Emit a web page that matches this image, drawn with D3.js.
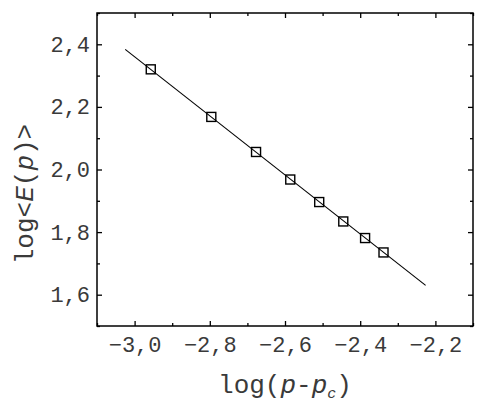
<!DOCTYPE html>
<html>
<head>
<meta charset="utf-8">
<script src="https://cdn.jsdelivr.net/npm/d3@7"></script>
<style>
  body { margin: 0; background: #fff; }
  svg { display: block; }
</style>
</head>
<body>
<div id="chart"></div>
<script>
// data
const logDp = [-2.957, -2.796, -2.677, -2.586, -2.509, -2.445, -2.387, -2.338];
const logE = [2.320, 2.168, 2.056, 1.968, 1.896, 1.834, 1.781, 1.735];
// fitted line end points
const fitX = [-3.025, -2.226];
const fitY = [2.384, 1.630];
const xTicks = [-3.0, -2.8, -2.6, -2.4, -2.2];
const yTicks = [1.6, 1.8, 2.0, 2.2, 2.4];
const xMinor = [-3.1, -2.9, -2.7, -2.5, -2.3, -2.1];
const yMinor = [1.5, 1.7, 1.9, 2.1, 2.3, 2.5];

const width = 485,
  height = 415,
  marginTop = 13,
  marginRight = 12,
  marginBottom = 89,
  marginLeft = 97;

const mono = "'Liberation Mono', 'DejaVu Sans Mono', monospace";
const textColor = "#3a3a3a";
const fmt = (d) => d3.format(".1f")(d).replace(".", ",");

const x = d3.scaleLinear([-3.1, -2.1], [marginLeft, width - marginRight]);
const y = d3.scaleLinear([1.5, 2.5], [height - marginBottom, marginTop]);

const svg = d3
  .select("#chart")
  .append("svg")
  .attr("width", width)
  .attr("height", height)
  .attr("viewBox", [0, 0, width, height]);

function styleAxis(g) {
  g.select(".domain").remove();
  g.selectAll(".tick line").attr("stroke", "#000").attr("stroke-width", 1.3);
  g.selectAll(".tick text")
    .attr("font-family", mono)
    .attr("font-size", 22)
    .attr("fill", textColor);
}

// bottom axis
svg
  .append("g")
  .attr("transform", `translate(0,${height - marginBottom})`)
  .call(d3.axisBottom(x).tickValues(xTicks).tickFormat(fmt).tickSize(-5).tickPadding(10))
  .call(styleAxis);
svg
  .append("g")
  .attr("transform", `translate(0,${height - marginBottom})`)
  .call(d3.axisBottom(x).tickValues(xMinor).tickFormat("").tickSize(-3))
  .call(styleAxis);

// top axis
svg
  .append("g")
  .attr("transform", `translate(0,${marginTop})`)
  .call(d3.axisTop(x).tickValues(xTicks).tickFormat("").tickSize(-5))
  .call(styleAxis);
svg
  .append("g")
  .attr("transform", `translate(0,${marginTop})`)
  .call(d3.axisTop(x).tickValues(xMinor).tickFormat("").tickSize(-3))
  .call(styleAxis);

// left axis
svg
  .append("g")
  .attr("transform", `translate(${marginLeft},0)`)
  .call(d3.axisLeft(y).tickValues(yTicks).tickFormat(fmt).tickSize(-5).tickPadding(7))
  .call(styleAxis);
svg
  .append("g")
  .attr("transform", `translate(${marginLeft},0)`)
  .call(d3.axisLeft(y).tickValues(yMinor).tickFormat("").tickSize(-3))
  .call(styleAxis);

// right axis
svg
  .append("g")
  .attr("transform", `translate(${width - marginRight},0)`)
  .call(d3.axisRight(y).tickValues(yTicks).tickFormat("").tickSize(-5))
  .call(styleAxis);
svg
  .append("g")
  .attr("transform", `translate(${width - marginRight},0)`)
  .call(d3.axisRight(y).tickValues(yMinor).tickFormat("").tickSize(-3))
  .call(styleAxis);

// frame
svg
  .append("rect")
  .attr("x", marginLeft)
  .attr("y", marginTop)
  .attr("width", width - marginLeft - marginRight)
  .attr("height", height - marginTop - marginBottom)
  .attr("fill", "none")
  .attr("stroke", "#000")
  .attr("stroke-width", 1.5);

// fit line
svg
  .append("line")
  .attr("x1", x(fitX[0]))
  .attr("y1", y(fitY[0]))
  .attr("x2", x(fitX[1]))
  .attr("y2", y(fitY[1]))
  .attr("stroke", "#000")
  .attr("stroke-width", 1.1);

// square markers
const s = 9;
svg
  .append("g")
  .selectAll("rect")
  .data(d3.range(logDp.length))
  .join("rect")
  .attr("x", (i) => x(logDp[i]) - s / 2)
  .attr("y", (i) => y(logE[i]) - s / 2)
  .attr("width", s)
  .attr("height", s)
  .attr("fill", "none")
  .attr("stroke", "#000")
  .attr("stroke-width", 1.4);

// x title
const xt = svg
  .append("text")
  .attr("x", (marginLeft + width - marginRight) / 2)
  .attr("y", 393)
  .attr("text-anchor", "middle")
  .attr("font-family", mono)
  .attr("font-size", 26)
  .attr("fill", textColor);
xt.append("tspan").text("log(");
xt.append("tspan").attr("font-style", "italic").text("p");
xt.append("tspan").text("-");
xt.append("tspan").attr("font-style", "italic").text("p");
xt.append("tspan").attr("font-style", "italic").attr("font-size", 15).attr("dy", 5).text("c");
xt.append("tspan").attr("dy", -5).text(")");

// y title
const yt = svg
  .append("text")
  .attr("transform", "translate(33,194) rotate(-90)")
  .attr("text-anchor", "middle")
  .attr("font-family", mono)
  .attr("font-size", 26)
  .attr("fill", textColor);
yt.append("tspan").text("log<");
yt.append("tspan").attr("font-style", "italic").text("E");
yt.append("tspan").text("(");
yt.append("tspan").attr("font-style", "italic").text("p");
yt.append("tspan").text(")>");
</script>
</body>
</html>
